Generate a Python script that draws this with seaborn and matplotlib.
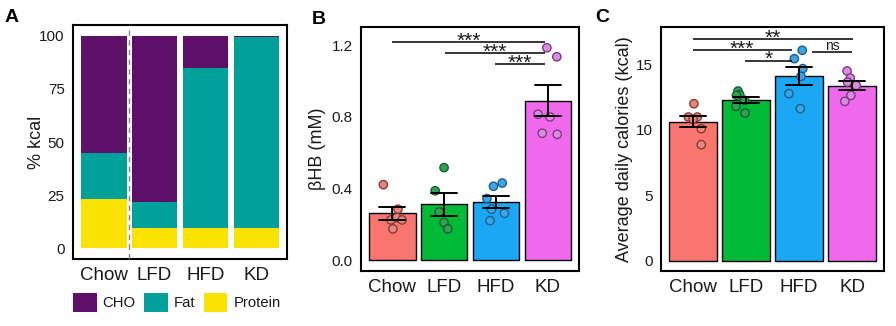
import numpy as np
import pandas as pd
import matplotlib
matplotlib.use("Agg")
import matplotlib.pyplot as plt
from matplotlib.patches import Patch
import seaborn as sns

# ---------------- data ----------------
diets = ["Chow", "LFD", "HFD", "KD"]

# Macronutrient composition of each diet (% kcal)
protein_pct = [23.0, 9.5, 9.5, 9.5]
fat_pct = [22.0, 12.5, 75.5, 90.0]
cho_pct = [55.0, 78.0, 15.0, 0.5]

# Serum beta-hydroxybutyrate (mM), one value per mouse
bhb_chow = [0.422, 0.285, 0.225, 0.238, 0.225, 0.175]
bhb_lfd = [0.517, 0.388, 0.270, 0.210, 0.175]
bhb_hfd = [0.431, 0.413, 0.344, 0.285, 0.262, 0.221]
bhb_kd = [1.186, 1.136, 0.815, 0.800, 0.703, 0.709]

# Average daily calorie intake (kcal), one value per mouse
kcal_chow = [11.99, 10.97, 10.97, 10.82, 10.08, 8.86]
kcal_lfd = [12.96, 12.68, 12.63, 12.25, 11.79, 11.28]
kcal_hfd = [16.07, 15.43, 14.67, 14.08, 12.76, 11.61]
kcal_kd = [14.49, 13.95, 13.64, 13.39, 12.63, 12.17]

# Pairwise comparisons (group a, group b, significance label)
bhb_stats = [("Chow", "KD", "***"), ("LFD", "KD", "***"), ("HFD", "KD", "***")]
kcal_stats = [("Chow", "KD", "**"), ("Chow", "HFD", "***"),
              ("LFD", "HFD", "*"), ("HFD", "KD", "ns")]

# ---------------- style ----------------
sns.set_style("white")
plt.rcParams["font.family"] = ["Liberation Sans", "DejaVu Sans"]
plt.rcParams["axes.linewidth"] = 1.5

macro_colors = {"CHO": "#5E1068", "Fat": "#00A19B", "Protein": "#F9E200"}
bar_colors = ["#F8766D", "#00BA38", "#1AA8F5", "#F068EC"]
point_fill = ["#E4877F", "#2EA354", "#38A6E8", "#D98EDD"]
point_edge = ["#8B3A33", "#1B5E2E", "#1F5F8A", "#7E3B83"]

TICK_COLOR = "#333333"
TEXT_COLOR = "#1a1a1a"

fig = plt.figure(figsize=(8.96, 3.26), dpi=100)
W, H = 896, 326


def px_axes(left, top, right, bottom):
    return fig.add_axes([left / W, 1 - bottom / H, (right - left) / W, (bottom - top) / H])


def style_axes(ax):
    for s in ax.spines.values():
        s.set_visible(True)
        s.set_color("black")
        s.set_linewidth(1.5)
    ax.tick_params(axis="both", direction="out", length=3.5, width=0.9,
                   color=TICK_COLOR, labelcolor=TEXT_COLOR, pad=2.5)
    ax.tick_params(axis="x", labelsize=13.5)
    ax.tick_params(axis="y", labelsize=11)
    ax.set_xlabel("")
    ax.set_xlim(-0.6, 3.6)


def long_form(groups):
    return pd.DataFrame({
        "diet": np.repeat(diets, [len(g) for g in groups]),
        "value": np.concatenate(groups),
    })


def bar_with_points(ax, df):
    sns.barplot(data=df, x="diet", y="value", hue="diet", order=diets,
                hue_order=diets, palette=bar_colors, saturation=1,
                errorbar="se", capsize=0.5, width=0.9,
                edgecolor="black", linewidth=1.0,
                err_kws={"color": "black", "linewidth": 1.4},
                legend=False, ax=ax)
    n_before = len(ax.collections)
    sns.stripplot(data=df, x="diet", y="value", hue="diet", order=diets,
                  hue_order=diets, palette=point_fill, jitter=0.2, size=6,
                  linewidth=1.0, legend=False, ax=ax)
    fills = [matplotlib.colors.to_hex(c) for c in point_fill]
    for coll in ax.collections[n_before:]:
        fc = matplotlib.colors.to_hex(coll.get_facecolor()[0])
        coll.set_edgecolor(point_edge[fills.index(fc)])
        coll.set_zorder(1.5)


def brackets(ax, stats, heights, ends, offsets):
    for (a, b, lab), y, (da, db), off in zip(stats, heights, ends, offsets):
        x0 = diets.index(a) + da
        x1 = diets.index(b) + db
        ax.plot([x0, x1], [y, y], color="black", lw=1.1,
                solid_capstyle="butt", zorder=3)
        if lab == "ns":
            ax.annotate(lab, xy=((x0 + x1) / 2, y), xytext=(0, 1.5),
                        textcoords="offset points", ha="center", va="baseline",
                        fontsize=10, color=TEXT_COLOR)
        else:
            ax.annotate(lab, xy=((x0 + x1) / 2, y), xytext=(0, off),
                        textcoords="offset points", ha="center", va="center",
                        fontsize=15, color=TEXT_COLOR)


# ---------------- panel A: diet composition ----------------
axA = px_axes(73, 25, 287, 259)
comp = pd.DataFrame({"diet": diets, "Protein": protein_pct, "Fat": fat_pct, "CHO": cho_pct})
comp["fat_top"] = comp["Protein"] + comp["Fat"]
comp["total"] = comp["fat_top"] + comp["CHO"]
# stacked bars: overdraw cumulative totals from the top layer down
sns.barplot(data=comp, x="diet", y="total", order=diets, color=macro_colors["CHO"],
            width=0.9, linewidth=0, saturation=1, ax=axA)
sns.barplot(data=comp, x="diet", y="fat_top", order=diets, color=macro_colors["Fat"],
            width=0.9, linewidth=0, saturation=1, ax=axA)
sns.barplot(data=comp, x="diet", y="Protein", order=diets, color=macro_colors["Protein"],
            width=0.9, linewidth=0, saturation=1, ax=axA)
axA.axvline(0.5, color="#8A7D96", lw=1.0, ls=(0, (4, 3)), zorder=3)
style_axes(axA)
axA.set_ylim(-5, 105)
axA.set_yticks([0, 25, 50, 75, 100])
axA.set_ylabel("% kcal", fontsize=13, color=TEXT_COLOR)
axA.yaxis.set_label_coords(-0.13, 0.5)

handles = [Patch(facecolor=macro_colors[k], edgecolor="none", label=k)
           for k in ["CHO", "Fat", "Protein"]]
fig.legend(handles=handles, loc="center left", bbox_to_anchor=(73 / W, 1 - 302.5 / H),
           ncol=3, frameon=False, fontsize=10.7, handlelength=1.6, handleheight=1.6,
           handletextpad=0.4, columnspacing=0.55, borderpad=0, borderaxespad=0,
           labelcolor=TEXT_COLOR)

# ---------------- panel B: beta-hydroxybutyrate ----------------
axB = px_axes(361, 27, 579, 271)
df_b = long_form([bhb_chow, bhb_lfd, bhb_hfd, bhb_kd])
np.random.seed(7)
bar_with_points(axB, df_b)
style_axes(axB)
axB.set_ylim(-0.06, 1.302)
axB.set_yticks([0.0, 0.4, 0.8, 1.2])
axB.set_yticklabels(["0.0", "0.4", "0.8", "1.2"])
axB.set_ylabel("βHB (mM)", fontsize=13, color=TEXT_COLOR)
axB.yaxis.set_label_coords(-0.16, 0.5)
brackets(axB, bhb_stats, [1.22, 1.158, 1.095],
         [(0, -0.06), (0.01, -0.06), (-0.01, -0.06)], [0.5, 0.5, 0.5])

# ---------------- panel C: calorie intake ----------------
axC = px_axes(661, 27, 884, 271)
df_c = long_form([kcal_chow, kcal_lfd, kcal_hfd, kcal_kd])
np.random.seed(3)
bar_with_points(axC, df_c)
style_axes(axC)
axC.set_ylim(-0.79, 17.85)
axC.set_yticks([0, 5, 10, 15])
axC.set_ylabel("Average daily calories (kcal)", fontsize=13, color=TEXT_COLOR)
axC.yaxis.set_label_coords(-0.126, 0.5)
brackets(axC, kcal_stats, [16.9, 16.09, 15.25, 15.91],
         [(0, 0.01), (0, -0.14), (-0.015, -0.14), (0.25, 0.0)], [0.5, 0.5, 1.5, 0])

# ---------------- panel letters ----------------
for lab, x, y in [("A", 5, 17), ("B", 312, 20), ("C", 595, 18)]:
    fig.text(x / W, 1 - y / H, lab, fontsize=14, fontweight="bold",
             ha="left", va="center", color="black")

fig.savefig("out.png", dpi=100)
